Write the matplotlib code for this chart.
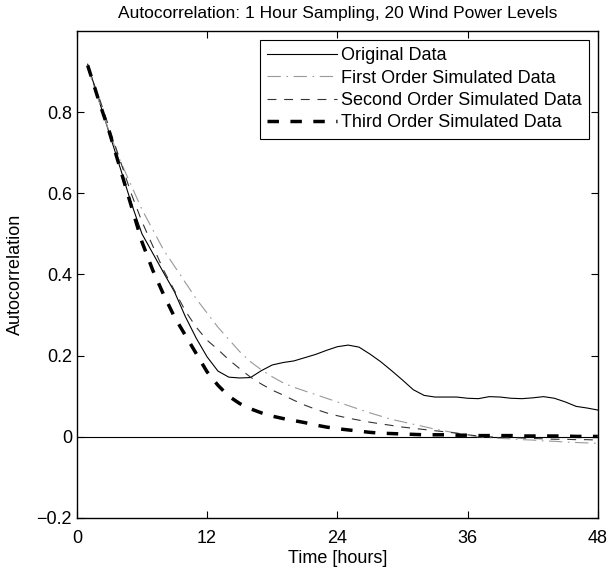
import numpy as np
import matplotlib
matplotlib.use("Agg")
import matplotlib.pyplot as plt

plt.rcParams['font.family'] = ['Liberation Sans', 'DejaVu Sans']

hours = list(range(1, 49))

original = [0.918, 0.832, 0.747, 0.662, 0.577, 0.50, 0.452, 0.404, 0.357, 0.296,
            0.243, 0.197, 0.162, 0.147, 0.145, 0.146, 0.163, 0.177, 0.183, 0.187,
            0.195, 0.203, 0.213, 0.222, 0.226, 0.221, 0.204, 0.185, 0.163, 0.14,
            0.116, 0.102, 0.098, 0.098, 0.098, 0.095, 0.094, 0.099, 0.098, 0.095,
            0.094, 0.096, 0.099, 0.095, 0.086, 0.075, 0.071, 0.066]

first_order = [0.91, 0.83, 0.75, 0.68, 0.62, 0.56, 0.51, 0.46, 0.42, 0.38,
               0.34, 0.305, 0.27, 0.24, 0.21, 0.185, 0.165, 0.148, 0.133, 0.122,
               0.113, 0.104, 0.095, 0.086, 0.077, 0.068, 0.059, 0.051, 0.043, 0.037,
               0.031, 0.025, 0.019, 0.014, 0.009, 0.004, 0.0, -0.002, -0.004, -0.005,
               -0.007, -0.008, -0.01, -0.011, -0.013, -0.014, -0.015, -0.016]

second_order = [0.91, 0.84, 0.76, 0.68, 0.60, 0.53, 0.47, 0.41, 0.36, 0.31,
                0.27, 0.238, 0.215, 0.19, 0.168, 0.147, 0.13, 0.115, 0.103, 0.09,
                0.078, 0.068, 0.059, 0.052, 0.046, 0.041, 0.036, 0.032, 0.028, 0.024,
                0.021, 0.018, 0.015, 0.012, 0.009, 0.005, 0.002, 0.0, -0.001, -0.002,
                -0.003, -0.004, -0.005, -0.006, -0.006, -0.007, -0.007, -0.008]

third_order = [0.915, 0.83, 0.75, 0.66, 0.57, 0.48, 0.41, 0.35, 0.295, 0.25,
               0.205, 0.16, 0.127, 0.1, 0.082, 0.069, 0.059, 0.051, 0.045, 0.04,
               0.035, 0.029, 0.024, 0.02, 0.017, 0.014, 0.011, 0.009, 0.008, 0.007,
               0.006, 0.005, 0.005, 0.005, 0.004, 0.004, 0.003, 0.003, 0.003, 0.003,
               0.002, 0.002, 0.002, 0.002, 0.002, 0.001, 0.001, 0.001]

x_ticks = [0, 12, 24, 36, 48]
y_ticks = [-0.2, 0, 0.2, 0.4, 0.6, 0.8]
y_tick_labels = ['\u22120.2', '0', '0.2', '0.4', '0.6', '0.8']

fig = plt.figure(figsize=(6.1, 5.73), dpi=100)
ax = fig.add_axes([0.126, 0.096, 0.854, 0.85])

ax.axhline(0, color='black', lw=0.8)
ax.plot(hours, original, '-', color='black', lw=0.8, label='Original Data')
ax.plot(hours, first_order, color='#999999', lw=0.8, dashes=(12, 5, 1.5, 5),
        label='First Order Simulated Data')
ax.plot(hours, second_order, color='#333333', lw=0.8, dashes=(8, 7),
        label='Second Order Simulated Data')
ax.plot(hours, third_order, color='black', lw=2.5, dashes=(3.3, 3.3),
        label='Third Order Simulated Data')

ax.set_xlim(0, 48)
ax.set_ylim(-0.2, 1.0)
ax.set_xticks(x_ticks)
ax.set_yticks(y_ticks)
ax.set_yticklabels(y_tick_labels)
ax.tick_params(direction='in', top=True, right=True, length=5, width=0.8, labelsize=13)
ax.tick_params(axis='x', pad=9)
for s in ax.spines.values():
    s.set_linewidth(1.0)

ax.set_xlabel('Time [hours]', fontsize=13, labelpad=2)
ax.set_ylabel('Autocorrelation', fontsize=13, labelpad=9)
ax.set_title('Autocorrelation: 1 Hour Sampling, 20 Wind Power Levels', fontsize=12.5, pad=9)

leg = ax.legend(loc='upper right', fontsize=13, handlelength=3.9, handletextpad=0.2,
                borderpad=0.4, labelspacing=0.3, fancybox=False, framealpha=1,
                borderaxespad=0.5)
leg.get_frame().set_edgecolor('black')
leg.get_frame().set_linewidth(0.8)

fig.savefig('out.png', dpi=100)
